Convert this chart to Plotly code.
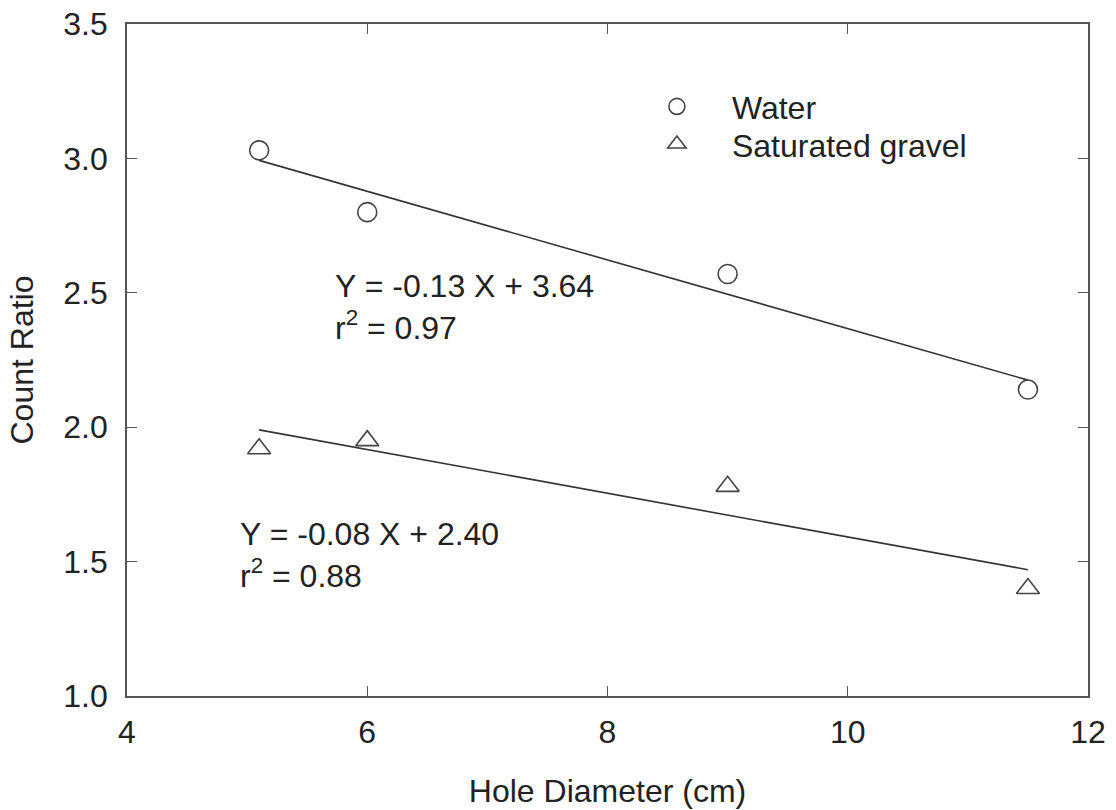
import numpy as np
import plotly.graph_objects as go

# Hole diameter (cm) and count ratio measurements
hole_diameter = [5.1, 6.0, 9.0, 11.5]
water_ratio = [3.03, 2.80, 2.57, 2.14]
gravel_ratio = [1.92, 1.95, 1.78, 1.40]

water_eq = ["Y = -0.13 X + 3.64", "r<sup>2</sup> = 0.97"]
gravel_eq = ["Y = -0.08 X + 2.40", "r<sup>2</sup> = 0.88"]

x_ticks = [4, 6, 8, 10, 12]
y_ticks = [1.0, 1.5, 2.0, 2.5, 3.0, 3.5]

FONT = "Liberation Sans, Arial, sans-serif"
FS = 32
INK = "#222222"
AXIS = "#555555"
MARK = "#444444"


def fit_line(x, y):
    slope, intercept = np.polyfit(x, y, 1)
    xs = np.array([min(x), max(x)])
    return xs, slope * xs + intercept


fig = go.Figure()

series = [
    ("Water", water_ratio, "circle-open", 19, "legend"),
    ("Saturated gravel", gravel_ratio, "triangle-up-open", 20, "legend2"),
]
for name, yvals, symbol, msize, leg in series:
    fx, fy = fit_line(hole_diameter, yvals)
    fig.add_trace(go.Scatter(
        x=fx, y=fy, mode="lines", showlegend=False,
        line=dict(color="#333333", width=1.6),
        hoverinfo="skip",
    ))
    fig.add_trace(go.Scatter(
        x=hole_diameter, y=yvals, mode="markers", name=name, legend=leg,
        marker=dict(symbol=symbol, size=msize, color=MARK,
                    line=dict(color=MARK, width=1.6)),
    ))

# Regression equations
fig.add_annotation(x=5.715, y=2.60, xref="x", yref="y",
                   text="<br>".join(water_eq), showarrow=False,
                   xanchor="left", yanchor="top", align="left",
                   font=dict(family=FONT, size=FS, color=INK))
fig.add_annotation(x=4.924, y=1.677, xref="x", yref="y",
                   text="<br>".join(gravel_eq), showarrow=False,
                   xanchor="left", yanchor="top", align="left",
                   font=dict(family=FONT, size=FS, color=INK))

axis_common = dict(
    showline=True, linecolor=AXIS, linewidth=1.6, mirror="ticks",
    ticks="inside", ticklen=10, tickwidth=1.4, tickcolor=AXIS,
    showgrid=False, zeroline=False, automargin=False,
    tickfont=dict(family=FONT, size=FS, color=INK),
)

fig.update_xaxes(
    range=[4, 12], tickvals=x_ticks, ticktext=[str(v) for v in x_ticks],
    ticklabelstandoff=7,
    title=dict(text="Hole Diameter (cm)", standoff=30,
               font=dict(family=FONT, size=FS, color=INK)),
    **axis_common,
)
fig.update_yaxes(
    range=[1.0, 3.5], tickvals=y_ticks, ticktext=[f"{v:.1f}" for v in y_ticks],
    ticklabelstandoff=11,
    title=dict(text="Count Ratio", standoff=20,
               font=dict(family=FONT, size=FS, color=INK)),
    **axis_common,
)

legend_style = dict(xanchor="left", yanchor="top",
                    bgcolor="rgba(0,0,0,0)", borderwidth=0, itemwidth=100,
                    font=dict(family=FONT, size=FS, color=INK))

fig.update_layout(
    width=1116, height=810,
    margin=dict(l=127, r=28, t=24, b=114),
    paper_bgcolor="white", plot_bgcolor="white",
    showlegend=True,
    legend=dict(x=0.515, y=0.918, **legend_style),
    legend2=dict(x=0.515, y=0.862, **legend_style),
    font=dict(family=FONT, color=INK),
)

fig.write_html("out.html")
